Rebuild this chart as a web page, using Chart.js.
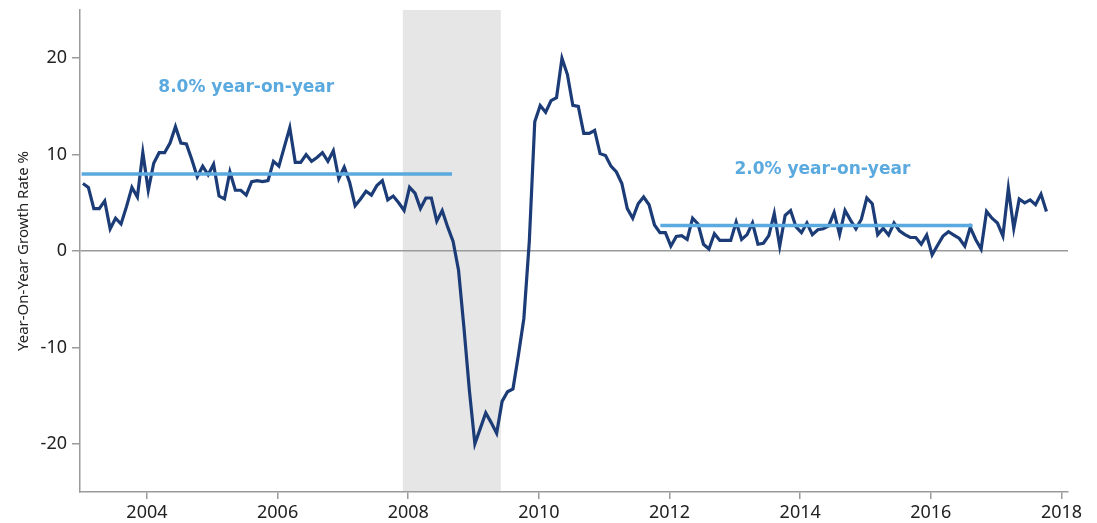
<!DOCTYPE html>
<html>
<head>
<meta charset="utf-8">
<script src="https://cdn.jsdelivr.net/npm/chart.js@4.4.1/dist/chart.umd.min.js"></script>
<style>
  html, body { margin: 0; padding: 0; background: #fff; }
  #wrap { width: 1097px; height: 523px; }
</style>
</head>
<body>
<div id="wrap"><canvas id="growthChart" width="1097" height="523"></canvas></div>
<script>
// monthly series, starts Jan 2003
const startYear = 2003;
const growth = [
  7.0, 6.6, 4.4, 4.4, 5.2, 2.3, 3.4, 2.8, 4.6, 6.6, 5.6, 10.2,
  6.3, 9.1, 10.2, 10.2, 11.2, 12.9, 11.2, 11.1, 9.5, 7.7, 8.8, 7.9,
  9.0, 5.7, 5.4, 8.2, 6.3, 6.3, 5.8, 7.2, 7.3, 7.2, 7.3, 9.3,
  8.8, 10.8, 12.8, 9.2, 9.2, 10.0, 9.3, 9.7, 10.2, 9.3, 10.4, 7.5,
  8.7, 7.1, 4.7, 5.4, 6.2, 5.8, 6.8, 7.3, 5.3, 5.7, 5.0, 4.2,
  6.6, 6.0, 4.4, 5.5, 5.5, 3.1, 4.2, 2.5, 1.0, -2.0, -8.0, -14.5,
  -20.0, -18.4, -16.8, -17.8, -18.9, -15.6, -14.6, -14.3, -10.8, -7.0, 1.0, 13.4,
  15.1, 14.4, 15.6, 15.9, 20.0, 18.3, 15.1, 15.0, 12.2, 12.2, 12.5, 10.1,
  9.9, 8.8, 8.2, 7.0, 4.4, 3.4, 4.9, 5.6, 4.8, 2.7, 1.9, 1.9,
  0.5, 1.5, 1.6, 1.2, 3.4, 2.8, 0.7, 0.2, 1.8, 1.1, 1.1, 1.1,
  3.0, 1.2, 1.7, 2.9, 0.7, 0.8, 1.6, 3.9, 0.5, 3.7, 4.2, 2.5,
  1.9, 2.9, 1.7, 2.2, 2.3, 2.6, 4.0, 1.7, 4.2, 3.2, 2.3, 3.3,
  5.5, 4.9, 1.7, 2.35, 1.65, 2.9, 2.1, 1.7, 1.4, 1.4, 0.7, 1.65,
  -0.4, 0.6, 1.55, 2.0, 1.65, 1.3, 0.5, 2.45, 1.2, 0.2, 4.1, 3.4,
  2.9, 1.55, 6.5, 2.35, 5.4, 5.0, 5.3, 4.8, 5.9, 4.1
];

// period averages: [fromYear, toYear], value, label
const avgRanges = [[2003.0, 2008.67], [2011.86, 2016.64]];
const avgValues = [8.0, 2.65];
const avgLabels = ['8.0% year-on-year', '2.0% year-on-year'];
const avgLabelPos = [[2005.52, 17.0], [2014.34, 8.4]];

// recession band
const recession = [2007.917, 2009.417];

const xTicks = [2004, 2006, 2008, 2010, 2012, 2014, 2016, 2018];
const yTicks = [-20, -10, 0, 10, 20];

const lineColor = '#1c3c77';
const avgColor = '#5aa9df';
const axisColor = '#9a9a9a';
const textColor = '#222';

const points = growth.map((v, i) => ({ x: startYear + i / 12 + 0.02, y: v }));

const avgSets = avgRanges.map((r, k) => ({
  data: [{ x: r[0], y: avgValues[k] }, { x: r[1], y: avgValues[k] }],
  borderColor: avgColor,
  borderWidth: 3.5,
  pointRadius: 0,
  order: 1
}));

const bandPlugin = {
  id: 'band',
  beforeDraw(chart) {
    const { ctx, chartArea, scales } = chart;
    const x0 = scales.x.getPixelForValue(recession[0]);
    const x1 = scales.x.getPixelForValue(recession[1]);
    ctx.save();
    ctx.fillStyle = '#e6e6e6';
    ctx.fillRect(x0, chartArea.top, x1 - x0, chartArea.bottom - chartArea.top);
    ctx.restore();
  }
};

const labelPlugin = {
  id: 'avgLabels',
  afterDatasetsDraw(chart) {
    const { ctx, scales } = chart;
    ctx.save();
    ctx.fillStyle = avgColor;
    ctx.font = 'bold 17px "DejaVu Sans"';
    ctx.textAlign = 'center';
    ctx.textBaseline = 'middle';
    avgLabels.forEach((t, k) => {
      ctx.fillText(t, scales.x.getPixelForValue(avgLabelPos[k][0]), scales.y.getPixelForValue(avgLabelPos[k][1]));
    });
    ctx.restore();
  }
};

new Chart(document.getElementById('growthChart'), {
  type: 'line',
  data: {
    datasets: [{
      data: points,
      borderColor: lineColor,
      borderWidth: 3.2,
      pointRadius: 0,
      tension: 0,
      order: 2
    }, ...avgSets]
  },
  options: {
    responsive: false,
    animation: false,
    layout: { padding: { top: 10, right: 29, left: 0, bottom: 0 } },
    plugins: { legend: { display: false }, tooltip: { enabled: false } },
    scales: {
      x: {
        type: 'linear',
        min: 2002.975,
        max: 2018.1,
        afterBuildTicks: s => { s.ticks = xTicks.map(v => ({ value: v })); },
        afterFit: s => { s.height = 31; },
        border: { color: axisColor, width: 1.5 },
        grid: { drawOnChartArea: false, tickLength: 7, tickColor: axisColor, lineWidth: 1.5 },
        ticks: { color: textColor, font: { family: 'Noto Sans', size: 18 }, padding: 3, maxRotation: 0,
          callback: v => String(v) }
      },
      y: {
        min: -25,
        max: 25,
        afterBuildTicks: s => { s.ticks = yTicks.map(v => ({ value: v })); },
        afterFit: s => { s.width = 80; s.paddingTop = 0; s.paddingBottom = 0; },
        border: { color: axisColor, width: 1.5 },
        grid: {
          color: c => (c.tick && c.tick.value === 0 ? axisColor : 'rgba(0,0,0,0)'),
          tickColor: axisColor, tickLength: 8, lineWidth: 1.5
        },
        ticks: { color: textColor, font: { family: 'Noto Sans', size: 18 }, padding: 5 },
        title: {
          display: true,
          text: 'Year-On-Year Growth Rate %',
          color: textColor,
          font: { family: 'Noto Sans', size: 15 },
          padding: { top: 15, bottom: 0 }
        }
      }
    }
  },
  plugins: [bandPlugin, labelPlugin]
});
</script>
</body>
</html>
